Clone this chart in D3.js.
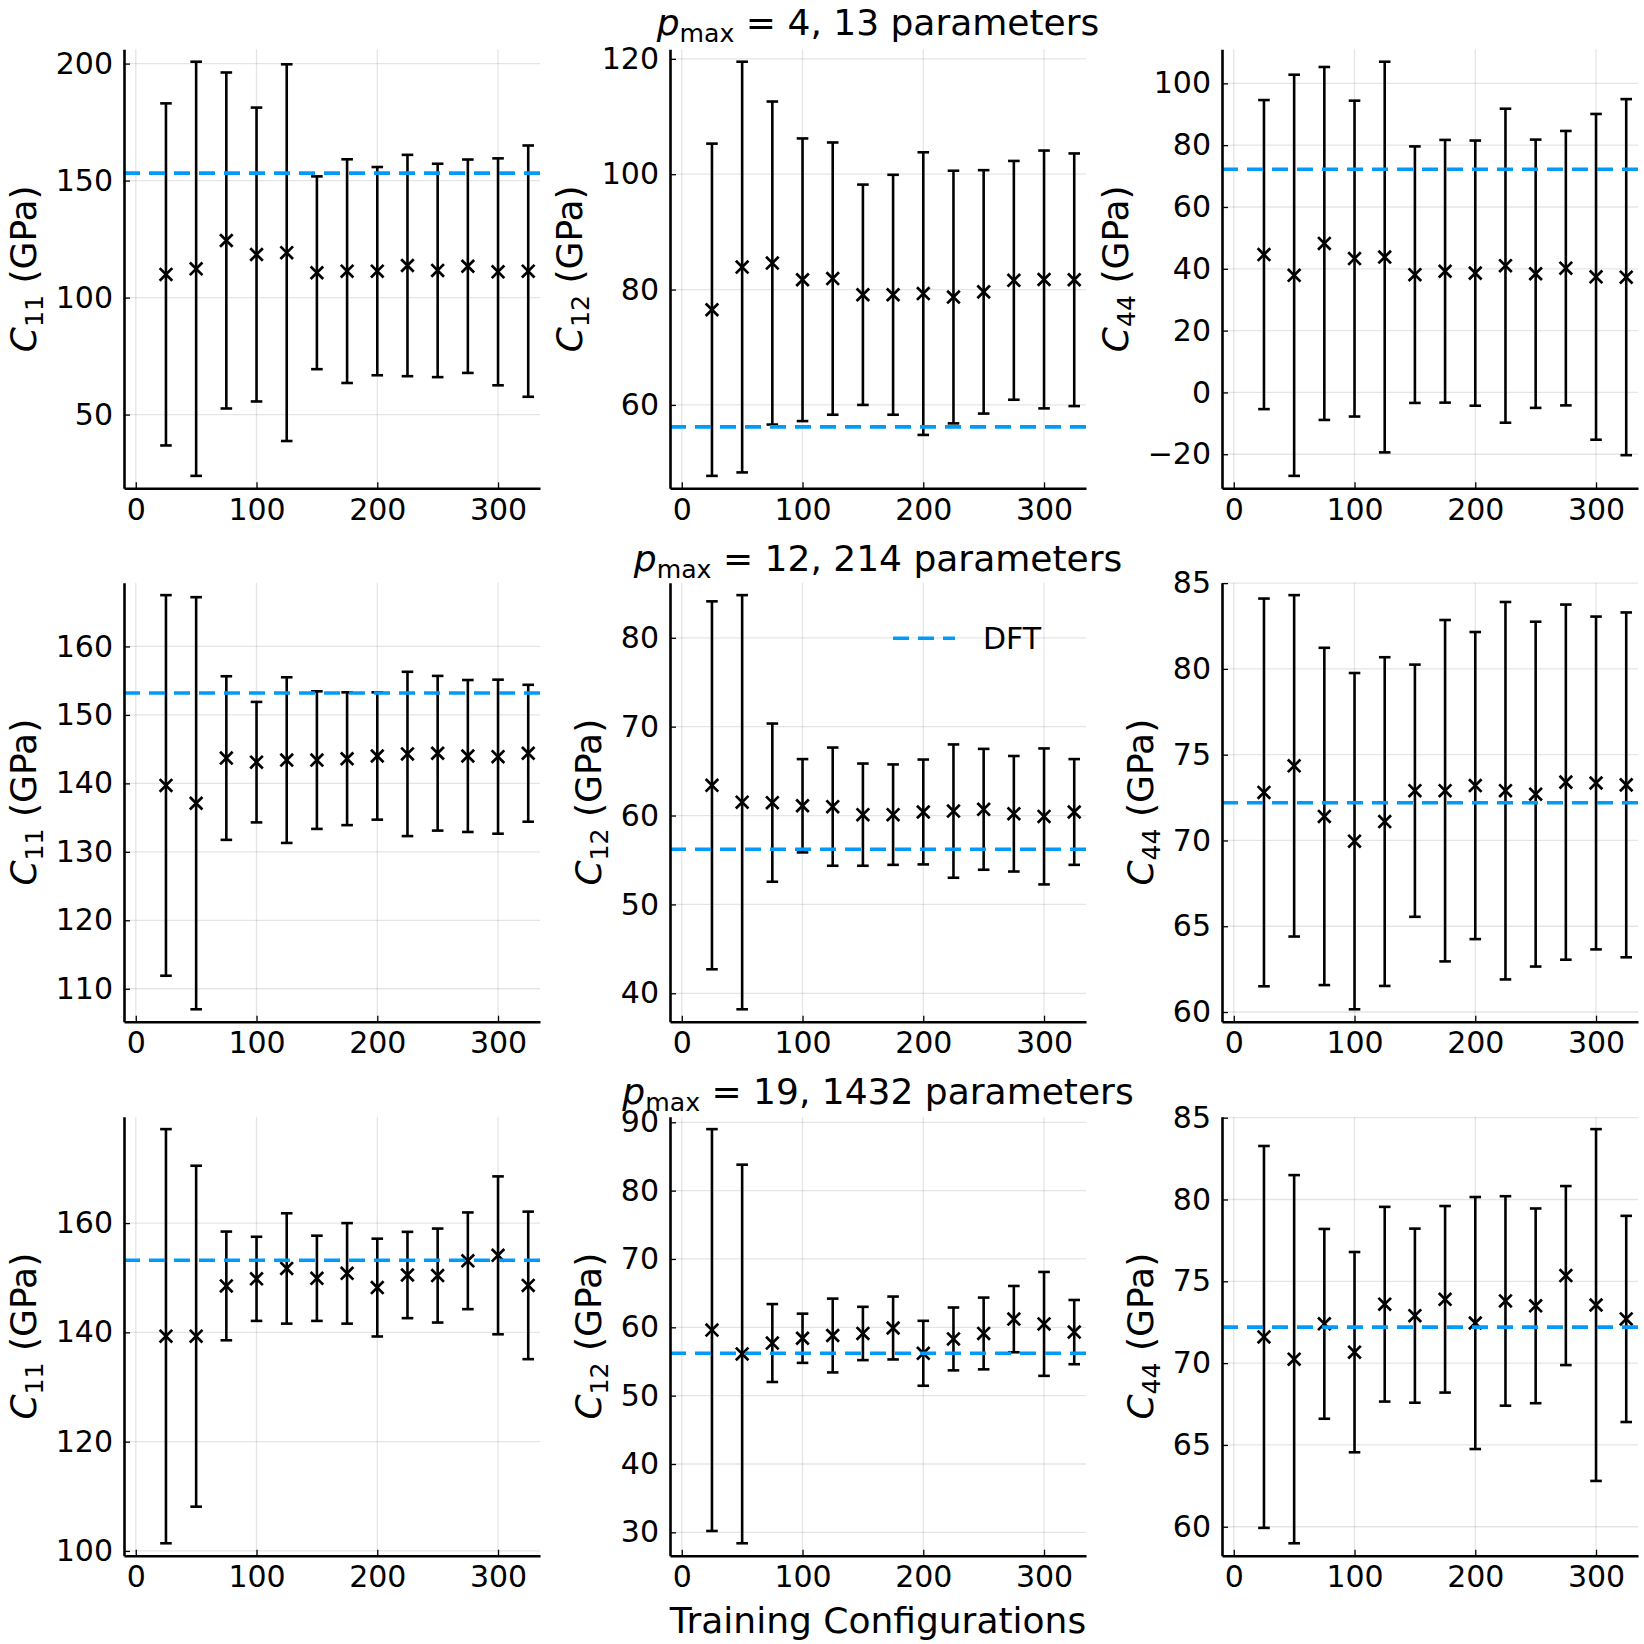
<!DOCTYPE html>
<html>
<head>
<meta charset="utf-8">
<script src="https://cdn.jsdelivr.net/npm/d3@7"></script>
<style>
  body { margin: 0; background: #ffffff; }
  svg { display: block; }
  text { font-family: "DejaVu Sans", "Liberation Sans", sans-serif; fill: #000; }
</style>
</head>
<body>
<svg id="chart" width="1644" height="1644"></svg>
<script>
// ---------------- DATA ----------------
const configs = [25, 50, 75, 100, 125, 150, 175, 200, 225, 250, 275, 300, 325];

const xLimits = [-9.75, 334.75];
const xTicks = [0, 100, 200, 300];

const dftC11 = 153.2;
const dftC12 = 56.2;
const dftC44 = 72.2;

// p_max = 4
const c11P4Mean = [109.9, 112.3, 124.4, 118.4, 119.2, 110.6, 111.3, 111.3, 113.7, 111.6, 113.4, 111.0, 111.3];
const c11P4Err  = [73.1, 88.5, 71.8, 62.8, 80.5, 41.2, 47.8, 44.5, 47.3, 45.6, 45.6, 48.5, 53.7];
const c12P4Mean = [76.5, 83.9, 84.6, 81.7, 81.9, 79.1, 79.1, 79.3, 78.7, 79.6, 81.6, 81.75, 81.7];
const c12P4Err  = [28.8, 35.6, 28.0, 24.5, 23.6, 19.1, 20.8, 24.5, 21.9, 21.1, 20.7, 22.35, 21.9];
const c44P4Mean = [44.6, 37.9, 48.2, 43.3, 43.8, 38.1, 39.2, 38.6, 41.0, 38.4, 40.2, 37.4, 37.3];
const c44P4Err  = [50.0, 64.9, 57.1, 51.1, 63.2, 41.5, 42.5, 42.9, 50.8, 43.4, 44.4, 52.7, 57.6];

// p_max = 12
const c11P12Mean = [139.7, 137.1, 143.7, 143.1, 143.4, 143.4, 143.6, 144.0, 144.3, 144.4, 144.0, 143.9, 144.4];
const c11P12Err  = [27.8, 30.1, 11.95, 8.8, 12.1, 10.05, 9.7, 9.3, 12.0, 11.3, 11.1, 11.25, 10.0];
const c12P12Mean = [63.4, 61.5, 61.45, 61.1, 61.0, 60.1, 60.1, 60.4, 60.5, 60.7, 60.2, 59.9, 60.4];
const c12P12Err  = [20.7, 23.3, 8.9, 5.25, 6.65, 5.75, 5.65, 5.9, 7.5, 6.8, 6.5, 7.65, 5.95];
const c44P12Mean = [72.8, 74.35, 71.4, 69.96, 71.1, 72.9, 72.9, 73.2, 72.9, 72.7, 73.4, 73.35, 73.24];
const c44P12Err  = [11.3, 9.95, 9.83, 9.8, 9.58, 7.35, 9.95, 8.95, 11.0, 10.05, 10.35, 9.7, 10.05];

// p_max = 19
const c11P19Mean = [139.3, 139.3, 148.5, 149.8, 151.7, 149.9, 150.8, 148.2, 150.5, 150.4, 153.1, 154.1, 148.6];
const c11P19Err  = [37.9, 31.2, 9.95, 7.7, 10.1, 7.8, 9.2, 8.95, 7.9, 8.6, 8.85, 14.45, 13.5];
const c12P19Mean = [59.6, 56.1, 57.7, 58.4, 58.8, 59.1, 59.9, 56.2, 58.3, 59.1, 61.2, 60.5, 59.3];
const c12P19Err  = [29.4, 27.7, 5.7, 3.6, 5.4, 3.9, 4.6, 4.75, 4.6, 5.25, 4.85, 7.6, 4.7];
const c44P19Mean = [71.6, 70.24, 72.4, 70.67, 73.6, 72.9, 73.9, 72.45, 73.8, 73.5, 75.35, 73.55, 72.7];
const c44P19Err  = [11.67, 11.25, 5.8, 6.12, 5.95, 5.32, 5.7, 7.7, 6.4, 5.95, 5.47, 10.75, 6.3];

// y tick labels
const yTicksC11P4 = [50, 100, 150, 200];
const yTicksC12P4 = [60, 80, 100, 120];
const yTicksC44P4 = [-20, 0, 20, 40, 60, 80, 100];
const yTicksC11P12 = [110, 120, 130, 140, 150, 160];
const yTicksC12P12 = [40, 50, 60, 70, 80];
const yTicksC44P12 = [60, 65, 70, 75, 80, 85];
const yTicksC11P19 = [100, 120, 140, 160];
const yTicksC12P19 = [30, 40, 50, 60, 70, 80, 90];
const yTicksC44P19 = [60, 65, 70, 75, 80, 85];

const rowTitles = [
  { rest: " = 4, 13 parameters" },
  { rest: " = 12, 214 parameters" },
  { rest: " = 19, 1432 parameters" }
];
const xLabel = "Training Configurations";
const legendLabel = "DFT";
const unitText = " (GPa)";

// ---------------- PANELS ----------------
const panels = [
  { row: 0, col: 0, sub: "11", mean: c11P4Mean, err: c11P4Err, dft: dftC11, yTicks: yTicksC11P4 },
  { row: 0, col: 1, sub: "12", mean: c12P4Mean, err: c12P4Err, dft: dftC12, yTicks: yTicksC12P4 },
  { row: 0, col: 2, sub: "44", mean: c44P4Mean, err: c44P4Err, dft: dftC44, yTicks: yTicksC44P4 },
  { row: 1, col: 0, sub: "11", mean: c11P12Mean, err: c11P12Err, dft: dftC11, yTicks: yTicksC11P12 },
  { row: 1, col: 1, sub: "12", mean: c12P12Mean, err: c12P12Err, dft: dftC12, yTicks: yTicksC12P12, legend: true },
  { row: 1, col: 2, sub: "44", mean: c44P12Mean, err: c44P12Err, dft: dftC44, yTicks: yTicksC44P12 },
  { row: 2, col: 0, sub: "11", mean: c11P19Mean, err: c11P19Err, dft: dftC11, yTicks: yTicksC11P19 },
  { row: 2, col: 1, sub: "12", mean: c12P19Mean, err: c12P19Err, dft: dftC12, yTicks: yTicksC12P19 },
  { row: 2, col: 2, sub: "44", mean: c44P19Mean, err: c44P19Err, dft: dftC44, yTicks: yTicksC44P19 }
];

// ---------------- LAYOUT / STYLE ----------------
const colLeft = [124, 670, 1222];
const rowTop = [49.3, 582.7, 1116.7];
const W = 416, H = 439;
const titleY = [35, 571, 1104];
const pad = 0.03;
const BLUE = "#009AFA";
const TICK_FS = 30, GUIDE_FS = 36, TITLE_FS = 36, LEGEND_FS = 30;

const svg = d3.select("#chart");
svg.append("rect").attr("width", 1644).attr("height", 1644).attr("fill", "#fff");

const fmt = d => (d < 0 ? "\u2212" + Math.abs(d) : String(d));

panels.forEach(p => {
  const g = svg.append("g")
    .attr("transform", `translate(${colLeft[p.col]},${rowTop[p.row]})`);

  const x = d3.scaleLinear().domain(xLimits).range([0, W]);
  const lo = d3.min(p.mean, (m, i) => m - p.err[i]);
  const hi = d3.max(p.mean, (m, i) => m + p.err[i]);
  const span = hi - lo;
  const y = d3.scaleLinear().domain([lo - pad * span, hi + pad * span]).range([H, 0]);

  // grid
  const grid = g.append("g").attr("stroke", "#000").attr("stroke-opacity", 0.1).attr("stroke-width", 1.3);
  grid.selectAll("line.gx").data(xTicks).join("line").attr("class", "gx")
    .attr("x1", d => x(d)).attr("x2", d => x(d)).attr("y1", 0).attr("y2", H);
  grid.selectAll("line.gy").data(p.yTicks).join("line").attr("class", "gy")
    .attr("x1", 0).attr("x2", W).attr("y1", d => y(d)).attr("y2", d => y(d));

  const pts = configs.map((c, i) => ({ c, m: p.mean[i], e: p.err[i] }));

  // error bars
  const eb = g.append("g").attr("stroke", "#000").attr("stroke-width", 2.6).attr("fill", "none");
  eb.selectAll("line.bar").data(pts).join("line").attr("class", "bar")
    .attr("x1", d => x(d.c)).attr("x2", d => x(d.c))
    .attr("y1", d => y(d.m - d.e)).attr("y2", d => y(d.m + d.e));
  const cap = 5.8;
  eb.selectAll("line.capT").data(pts).join("line").attr("class", "capT")
    .attr("x1", d => x(d.c) - cap).attr("x2", d => x(d.c) + cap)
    .attr("y1", d => y(d.m + d.e)).attr("y2", d => y(d.m + d.e));
  eb.selectAll("line.capB").data(pts).join("line").attr("class", "capB")
    .attr("x1", d => x(d.c) - cap).attr("x2", d => x(d.c) + cap)
    .attr("y1", d => y(d.m - d.e)).attr("y2", d => y(d.m - d.e));

  // x markers
  const ms = 6.3;
  const mk = g.append("g").attr("stroke", "#000").attr("stroke-width", 2.7);
  mk.selectAll("path").data(pts).join("path")
    .attr("d", d => {
      const cx = x(d.c), cy = y(d.m);
      return `M${cx - ms},${cy - ms}L${cx + ms},${cy + ms}M${cx - ms},${cy + ms}L${cx + ms},${cy - ms}`;
    });

  // DFT reference line
  g.append("line")
    .attr("x1", 0).attr("x2", W)
    .attr("y1", y(p.dft)).attr("y2", y(p.dft))
    .attr("stroke", BLUE).attr("stroke-width", 3.6).attr("stroke-dasharray", "16,9");

  // axes
  const yAxis = g.append("g").attr("class", "yaxis")
    .call(d3.axisLeft(y).tickValues(p.yTicks).tickSizeInner(-6).tickSizeOuter(0).tickPadding(11).tickFormat(fmt));
  const xAxis = g.append("g").attr("class", "xaxis").attr("transform", `translate(0,${H})`)
    .call(d3.axisBottom(x).tickValues(xTicks).tickSizeInner(-6).tickSizeOuter(0).tickPadding(10).tickFormat(fmt));
  [yAxis, xAxis].forEach(a => {
    a.select(".domain").attr("stroke", "#000").attr("stroke-width", 2.6);
    a.selectAll(".tick line").attr("stroke", "#000").attr("stroke-width", 1.3);
    a.selectAll(".tick text").attr("font-size", TICK_FS).attr("fill", "#000")
      .style("font-family", "'DejaVu Sans', sans-serif");
    a.attr("font-family", null).attr("font-size", null);
  });

  // y label
  const bb = yAxis.node().getBBox();
  const lx = bb.x - 20;
  const ly = H / 2;
  const lab = g.append("text")
    .attr("transform", `translate(${lx},${ly}) rotate(-90)`)
    .attr("text-anchor", "middle")
    .attr("font-size", GUIDE_FS);
  lab.append("tspan").attr("font-style", "italic").text("C");
  lab.append("tspan").attr("font-size", GUIDE_FS * 0.7).attr("dy", GUIDE_FS * 0.2).text(p.sub);
  lab.append("tspan").attr("dy", -GUIDE_FS * 0.2).text(unitText);

  // legend
  if (p.legend) {
    const lg = g.append("g");
    lg.append("line").attr("x1", 223).attr("x2", 285).attr("y1", 55.6).attr("y2", 55.6)
      .attr("stroke", BLUE).attr("stroke-width", 3.6).attr("stroke-dasharray", "16,9");
    lg.append("text").attr("x", 313).attr("y", 55.6).attr("dy", "0.36em")
      .attr("font-size", LEGEND_FS).text(legendLabel);
  }
});

// row titles (centered over middle column)
const cx = colLeft[1] + W / 2;
rowTitles.forEach((t, r) => {
  const tt = svg.append("text").attr("x", cx).attr("y", titleY[r])
    .attr("text-anchor", "middle").attr("font-size", TITLE_FS);
  tt.append("tspan").attr("font-style", "italic").text("p");
  tt.append("tspan").attr("font-size", TITLE_FS * 0.7).attr("dy", TITLE_FS * 0.2).text("max");
  tt.append("tspan").attr("dy", -TITLE_FS * 0.2).text(t.rest);
});

// x label
svg.append("text").attr("x", cx).attr("y", 1633)
  .attr("text-anchor", "middle").attr("font-size", GUIDE_FS).text(xLabel);
</script>
</body>
</html>
